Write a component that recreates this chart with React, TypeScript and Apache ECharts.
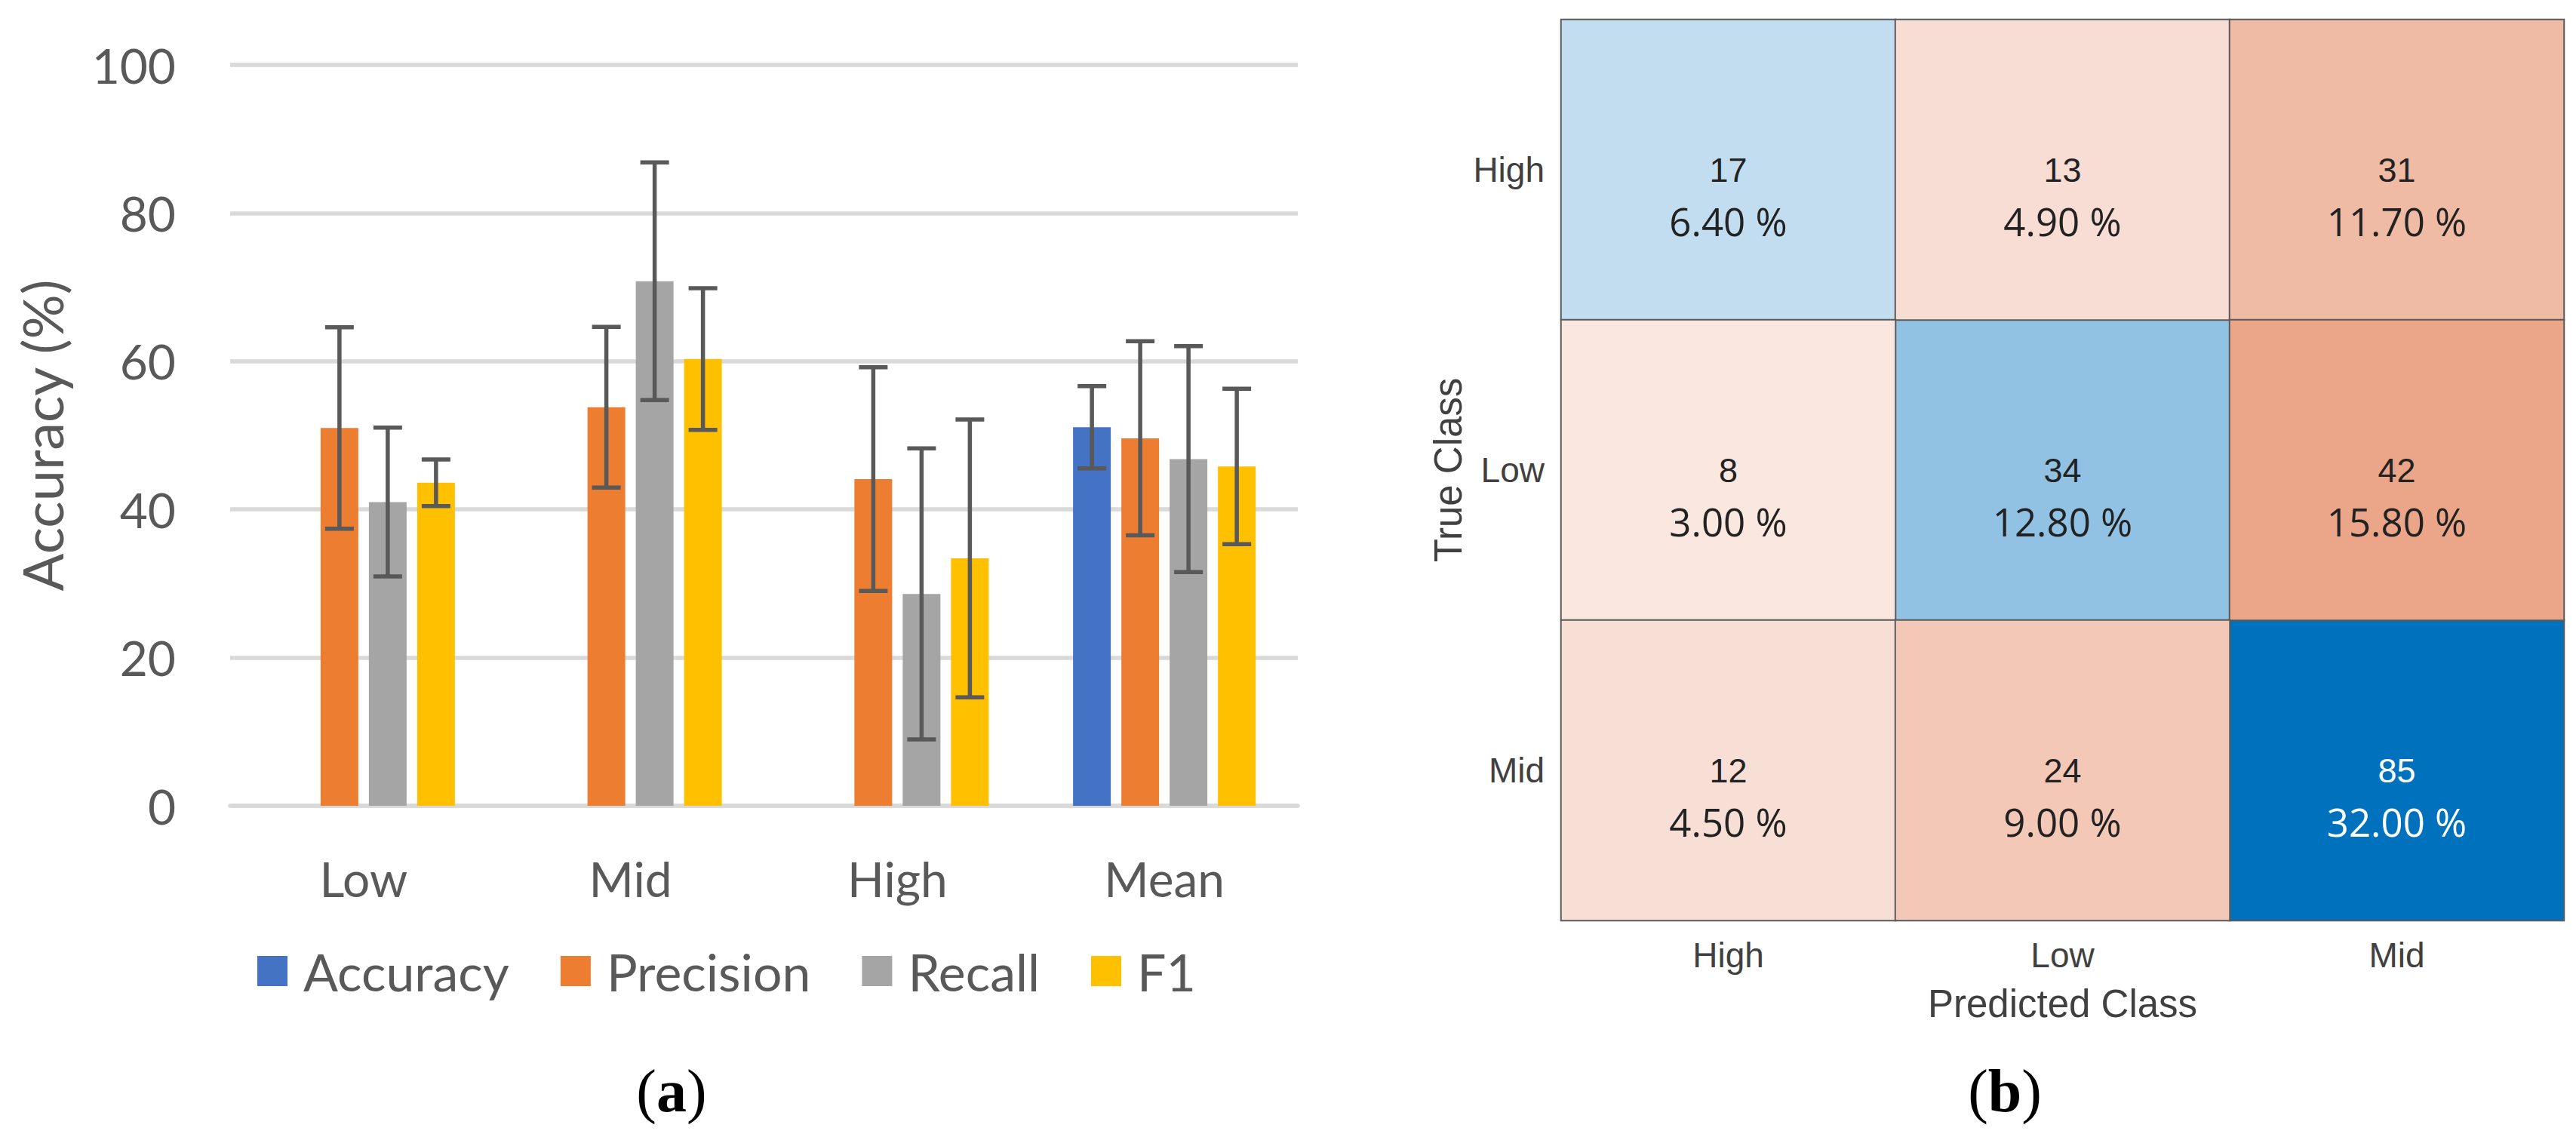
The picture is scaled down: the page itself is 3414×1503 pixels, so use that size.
import React, { useEffect, useRef } from "react";
import * as echarts from "echarts";

// ---- Panel (a) data ----
const categories = ["Low", "Mid", "High", "Mean"];
const seriesNames = ["Accuracy", "Precision", "Recall", "F1"];
const accuracy = [null, null, null, 51.1];
const precision = [51.0, 53.8, 44.1, 49.6];
const recall = [41.0, 70.8, 28.6, 46.8];
const f1 = [43.6, 60.3, 33.4, 45.8];
const accuracyErr = [null, null, null, 5.55];
const precisionErr = [13.6, 10.85, 15.1, 13.1];
const recallErr = [10.05, 16.05, 19.65, 15.25];
const f1Err = [3.15, 9.55, 18.75, 10.5];
const yTicks = [0, 20, 40, 60, 80, 100];

// ---- Panel (b) data ----
const classes = ["High", "Low", "Mid"];
const counts = [
  [17, 13, 31],
  [8, 34, 42],
  [12, 24, 85],
];
const percents = [
  ["6.40", "4.90", "11.70"],
  ["3.00", "12.80", "15.80"],
  ["4.50", "9.00", "32.00"],
];

const barColors = ["#4472C4", "#ED7D31", "#A5A5A5", "#FFC000"];
const BAR_W = 50;
const BAR_GAP = 14;
const LATO = "Lato";
const GREY_TXT = "#595959";

export default function App() {
  const ref = useRef<HTMLDivElement>(null);

  useEffect(() => {
    if (!ref.current) return;
    const chart = echarts.init(ref.current, null, { renderer: "svg" });

    const values = [accuracy, precision, recall, f1];
    const errs = [accuracyErr, precisionErr, recallErr, f1Err];

    const barSeries = values.map((vals, k) => ({
      name: seriesNames[k],
      type: "bar",
      xAxisIndex: 0,
      yAxisIndex: 0,
      barWidth: BAR_W,
      barGap: (BAR_GAP / BAR_W) * 100 + "%",
      itemStyle: { color: barColors[k] },
      data: vals,
      z: 2,
    }));

    const errSeries = errs.map((e, k) => {
      const data: number[][] = [];
      e.forEach((d, i) => {
        const v = values[k][i];
        if (d != null && v != null) data.push([i, v - d, v + d]);
      });
      const offset = (k - 1.5) * (BAR_W + BAR_GAP);
      return {
        name: seriesNames[k] + " error",
        type: "custom",
        xAxisIndex: 0,
        yAxisIndex: 0,
        z: 5,
        encode: { x: 0, y: [1, 2] },
        data,
        renderItem: (params: any, api: any) => {
          const x = api.value(0);
          const lo = api.coord([x, api.value(1)]);
          const hi = api.coord([x, api.value(2)]);
          const cx = lo[0] + offset;
          const st = { stroke: "#595959", lineWidth: 5.5 };
          return {
            type: "group",
            children: [
              { type: "line", shape: { x1: cx, y1: hi[1], x2: cx, y2: lo[1] }, style: st },
              { type: "line", shape: { x1: cx - 19, y1: hi[1], x2: cx + 19, y2: hi[1] }, style: st },
              { type: "line", shape: { x1: cx - 19, y1: lo[1], x2: cx + 19, y2: lo[1] }, style: st },
            ],
          };
        },
      };
    });

    const diagData: any[] = [];
    const offData: any[] = [];
    counts.forEach((row, i) => {
      row.forEach((c, j) => {
        const item = { value: [j, i, c], pct: percents[i][j], light: i === j && c > 60 };
        if (i === j) diagData.push(item);
        else offData.push(item);
      });
    });

    const heatLabel = {
      show: true,
      offset: [0, 34],
      formatter: (p: any) => {
        const w = p.data.light ? "w" : "";
        return `{c${w}|${p.value[2]}}\n{p${w}|${p.data.pct} %}`;
      },
      rich: {
        c: { fontSize: 45, fontFamily: "Liberation Sans", color: "#222222", lineHeight: 68 },
        p: { fontSize: 51, fontFamily: "Open Sans", color: "#222222", lineHeight: 68 },
        cw: { fontSize: 45, fontFamily: "Liberation Sans", color: "#ffffff", lineHeight: 68 },
        pw: { fontSize: 51, fontFamily: "Open Sans", color: "#ffffff", lineHeight: 68 },
      },
    };

    const heatItemStyle = { borderColor: "#5a5a5a", borderWidth: 2 };

    const option: any = {
      animation: false,
      backgroundColor: "#ffffff",
      textStyle: { fontFamily: LATO },
      legend: {
        data: seriesNames,
        left: 336,
        top: 1248,
        itemWidth: 40,
        itemHeight: 40,
        itemGap: 68,
        icon: "rect",
        textStyle: { fontSize: 68, color: GREY_TXT, fontFamily: LATO, padding: [0, 0, 0, 16] },
      },
      grid: [
        { left: 305, top: 86, width: 1415, height: 982 },
        { left: 2069, top: 26, width: 1329, height: 1194 },
      ],
      xAxis: [
        {
          type: "category",
          gridIndex: 0,
          data: categories,
          axisLine: { show: true, lineStyle: { color: "#d9d9d9", width: 5.5 } },
          axisTick: { show: false },
          axisLabel: { color: GREY_TXT, fontSize: 64, fontFamily: LATO, margin: 64 },
        },
        {
          type: "category",
          gridIndex: 1,
          data: classes,
          position: "bottom",
          name: "Predicted Class",
          nameLocation: "middle",
          nameGap: 85,
          nameTextStyle: { fontSize: 51, fontFamily: "Liberation Sans", color: "#404040" },
          axisLine: { show: false },
          axisTick: { show: false },
          splitLine: { show: false },
          axisLabel: { color: "#404040", fontSize: 46, fontFamily: "Liberation Sans", margin: 23 },
        },
      ],
      yAxis: [
        {
          type: "value",
          gridIndex: 0,
          min: yTicks[0],
          max: yTicks[yTicks.length - 1],
          interval: yTicks[1] - yTicks[0],
          name: "Accuracy (%)",
          nameLocation: "middle",
          nameGap: 213,
          nameTextStyle: { fontSize: 74, color: GREY_TXT, fontFamily: LATO },
          axisLine: { show: false },
          axisTick: { show: false },
          splitLine: { lineStyle: { color: "#d9d9d9", width: 5.5 } },
          axisLabel: { color: GREY_TXT, fontSize: 64, fontFamily: LATO, margin: 72 },
        },
        {
          type: "category",
          gridIndex: 1,
          data: classes,
          inverse: true,
          name: "True Class",
          nameLocation: "middle",
          nameGap: 124,
          nameTextStyle: { fontSize: 51, fontFamily: "Liberation Sans", color: "#404040" },
          axisLine: { show: false },
          axisTick: { show: false },
          splitLine: { show: false },
          axisLabel: { color: "#404040", fontSize: 46, fontFamily: "Liberation Sans", margin: 22 },
        },
      ],
      visualMap: [
        {
          show: false,
          type: "continuous",
          seriesIndex: 8,
          dimension: 2,
          min: 0,
          max: 85,
          inRange: { color: ["#f2f8fc", "#0072BD"] },
        },
        {
          show: false,
          type: "continuous",
          seriesIndex: 9,
          dimension: 2,
          min: 0,
          max: 85,
          inRange: { color: ["#fdf6f4", "#D95319"] },
        },
      ],
      graphic: [
        {
          type: "text",
          x: 890,
          y: 1446,
          style: {
            text: "({b|a})",
            textAlign: "center",
            textVerticalAlign: "middle",
            fontSize: 80,
            fontFamily: "Liberation Serif",
            fill: "#000000",
            rich: { b: { fontSize: 80, fontFamily: "Liberation Serif", fontWeight: "bold", fill: "#000000" } },
          },
        },
        {
          type: "text",
          x: 2657,
          y: 1446,
          style: {
            text: "({b|b})",
            textAlign: "center",
            textVerticalAlign: "middle",
            fontSize: 80,
            fontFamily: "Liberation Serif",
            fill: "#000000",
            rich: { b: { fontSize: 80, fontFamily: "Liberation Serif", fontWeight: "bold", fill: "#000000" } },
          },
        },
      ],
      series: [
        ...barSeries,
        ...errSeries,
        {
          name: "diag",
          type: "heatmap",
          xAxisIndex: 1,
          yAxisIndex: 1,
          data: diagData,
          label: heatLabel,
          itemStyle: heatItemStyle,
          emphasis: { disabled: true },
        },
        {
          name: "off",
          type: "heatmap",
          xAxisIndex: 1,
          yAxisIndex: 1,
          data: offData,
          label: heatLabel,
          itemStyle: heatItemStyle,
          emphasis: { disabled: true },
        },
      ],
    };

    chart.setOption(option);
    return () => chart.dispose();
  }, []);

  return (
    <div
      ref={ref}
      style={{ position: "absolute", left: 0, top: 0, width: 3414, height: 1503, background: "#ffffff" }}
    />
  );
}
